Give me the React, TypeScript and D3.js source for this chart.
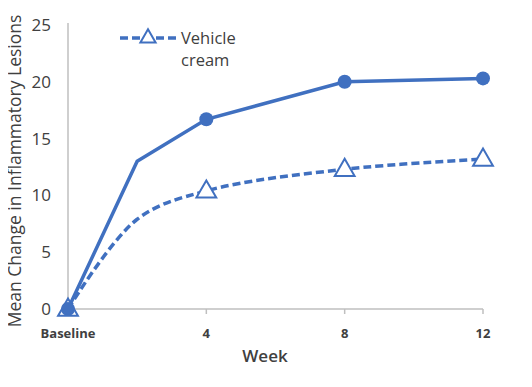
import React, { useEffect, useRef } from 'react';
import * as d3 from 'd3';

const weeks = [0, 2, 4, 8, 12];
const activeValues = [0, 13, 16.7, 20, 20.3];
const vehicleValues = [0, 7.9, 10.4, 12.3, 13.2];
const xTickWeeks = [0, 4, 8, 12];
const xTickLabels = ['Baseline', '4', '8', '12'];
const yTicks = [0, 5, 10, 15, 20, 25];
// markers are only drawn at the scheduled visits
const markerWeeks = [0, 4, 8, 12];

const App: React.FC = () => {
  const svgRef = useRef<SVGSVGElement | null>(null);

  useEffect(() => {
    if (!svgRef.current) return;
    const svg = d3.select(svgRef.current);
    svg.selectAll('*').remove();

    const blue = '#4070c0';
    const grey = '#bfbfbf';
    const font = "'Open Sans', 'DejaVu Sans', sans-serif";

    const x = d3.scaleLinear().domain([0, 12]).range([68, 483]);
    const y = d3.scaleLinear().domain([0, 25]).range([309, 25]);

    svg.append('rect').attr('width', 532).attr('height', 387).attr('fill', '#fff');

    // axes
    svg.append('line')
      .attr('x1', x(0)).attr('x2', x(0))
      .attr('y1', y(25) - 2).attr('y2', y(0))
      .attr('stroke', grey).attr('stroke-width', 1.5);
    svg.append('line')
      .attr('x1', x(0)).attr('x2', x(12))
      .attr('y1', y(0)).attr('y2', y(0))
      .attr('stroke', grey).attr('stroke-width', 1.5);

    svg.selectAll('.xtick')
      .data(xTickWeeks.slice(1))
      .enter()
      .append('line')
      .attr('x1', (d) => x(d)).attr('x2', (d) => x(d))
      .attr('y1', y(0)).attr('y2', y(0) + 5)
      .attr('stroke', grey).attr('stroke-width', 1.5);

    svg.selectAll('.xlabel')
      .data(xTickWeeks)
      .enter()
      .append('text')
      .attr('x', (d) => x(d))
      .attr('y', 338)
      .attr('text-anchor', 'middle')
      .style('font-family', font)
      .style('font-size', '13px')
      .style('font-weight', 'bold')
      .attr('fill', '#404040')
      .text((_, i) => xTickLabels[i]);

    svg.selectAll('.ylabel')
      .data(yTicks)
      .enter()
      .append('text')
      .attr('x', 51)
      .attr('y', (d) => y(d) + 6)
      .attr('text-anchor', 'end')
      .style('font-family', font)
      .style('font-size', '17px')
      .attr('fill', '#404040')
      .text((d) => d);

    svg.append('text')
      .attr('transform', `translate(21, 171) rotate(-90)`)
      .attr('text-anchor', 'middle')
      .style('font-family', font)
      .style('font-size', '17.5px')
      .attr('fill', '#404040')
      .text('Mean Change in Inflammatory Lesions');

    svg.append('text')
      .attr('x', 265)
      .attr('y', 362)
      .attr('text-anchor', 'middle')
      .style('font-family', font)
      .style('font-size', '17px')
      .style('font-weight', 600)
      .attr('fill', '#404040')
      .text('Week');

    const active = weeks.map((w, i) => ({ w, v: activeValues[i] }));
    const vehicle = weeks.map((w, i) => ({ w, v: vehicleValues[i] }));

    const straight = d3.line<{ w: number; v: number }>()
      .x((d) => x(d.w)).y((d) => y(d.v));
    const smooth = d3.line<{ w: number; v: number }>()
      .x((d) => x(d.w)).y((d) => y(d.v))
      .curve(d3.curveCatmullRom.alpha(0.5));

    svg.append('path')
      .attr('d', smooth(vehicle))
      .attr('fill', 'none')
      .attr('stroke', blue)
      .attr('stroke-width', 3.5)
      .attr('stroke-dasharray', '8,4');

    svg.append('path')
      .attr('d', straight(active))
      .attr('fill', 'none')
      .attr('stroke', blue)
      .attr('stroke-width', 3.5);

    const tri = d3.symbol().type(d3.symbolTriangle).size(170);

    svg.selectAll('.tri')
      .data(vehicle.filter((d) => markerWeeks.includes(d.w)))
      .enter()
      .append('path')
      .attr('d', tri)
      .attr('transform', (d) => `translate(${x(d.w)}, ${y(d.v) + 1})`)
      .attr('fill', '#fff')
      .attr('stroke', blue)
      .attr('stroke-width', 2);

    svg.selectAll('.dot')
      .data(active.filter((d) => markerWeeks.includes(d.w)))
      .enter()
      .append('circle')
      .attr('cx', (d) => x(d.w))
      .attr('cy', (d) => y(d.v))
      .attr('r', 7)
      .attr('fill', blue);

    // legend
    const legend = svg.append('g').attr('transform', 'translate(120, 38)');
    legend.append('line')
      .attr('x1', 0).attr('x2', 57)
      .attr('y1', 0).attr('y2', 0)
      .attr('stroke', blue)
      .attr('stroke-width', 3.5)
      .attr('stroke-dasharray', '8,4');
    legend.append('path')
      .attr('d', d3.symbol().type(d3.symbolTriangle).size(100))
      .attr('transform', 'translate(28, 0)')
      .attr('fill', '#fff')
      .attr('stroke', blue)
      .attr('stroke-width', 2);
    legend.append('text')
      .attr('x', 61).attr('y', 6)
      .style('font-family', font)
      .style('font-size', '16.5px')
      .attr('fill', '#404040')
      .text('Vehicle');
    legend.append('text')
      .attr('x', 61).attr('y', 28)
      .style('font-family', font)
      .style('font-size', '16.5px')
      .attr('fill', '#404040')
      .text('cream');
  }, []);

  return (
    <div style={{ margin: -8 }}>
      <svg ref={svgRef} width={532} height={387}></svg>
    </div>
  );
};

export default App;
